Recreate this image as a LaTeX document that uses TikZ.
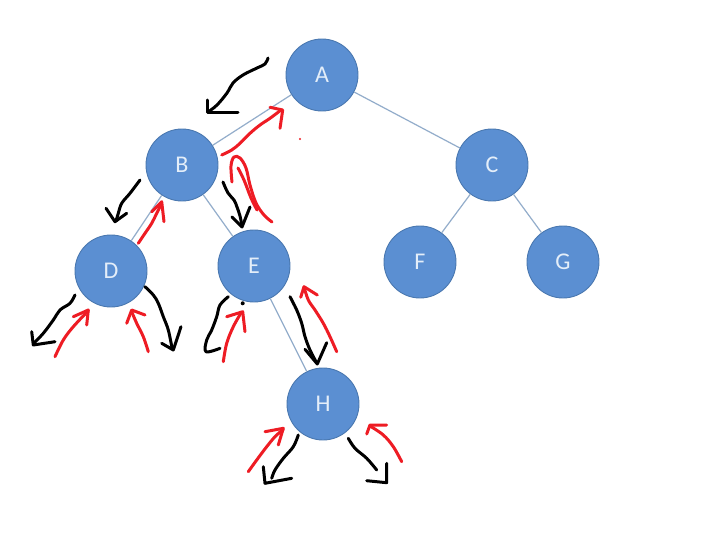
\documentclass[tikz,border=0pt]{standalone}
\usepackage{fontspec}
\setmainfont{Carlito}
\definecolor{nodefill}{HTML}{5B8FD2}
\definecolor{nodeborder}{HTML}{4A78B0}
\definecolor{nodetext}{HTML}{E4EEF9}
\definecolor{edgecol}{HTML}{93ADCB}
\definecolor{penred}{HTML}{EE1C24}
\begin{document}
\begin{tikzpicture}[x=1pt,y=-1pt,
  tn/.style={circle,minimum size=72pt,inner sep=0pt,fill=nodefill,draw=nodeborder,line width=0.9pt,text=nodetext,font=\fontsize{24}{24}\selectfont},
  edge/.style={draw=edgecol,line width=1.2pt},
  blk/.style={draw=black,line width=3pt,line cap=round,line join=round},
  rdp/.style={draw=penred,line width=3pt,line cap=round,line join=round}]
\useasboundingbox (0,0) rectangle (704,543);
\fill[white] (0,0) rectangle (704,543);
% nodes
\node[tn] (A) at (322,75) {A};
\node[tn] (B) at (182,165) {B};
\node[tn] (C) at (492,165) {C};
\node[tn] (D) at (111,271) {D};
\node[tn] (E) at (254,266) {E};
\node[tn] (F) at (420,262) {F};
\node[tn] (G) at (563,262) {G};
\node[tn] (H) at (323,404) {H};
% edges
\draw[edge] (A) -- (B);
\draw[edge] (A) -- (C);
\draw[edge] (B) -- (D);
\draw[edge] (B) -- (E);
\draw[edge] (C) -- (F);
\draw[edge] (C) -- (G);
\draw[edge] (E) -- (H);
% 1 black A->B
\draw[blk] plot[smooth,tension=0.6] coordinates {(268,58) (265,64) (257,68) (243,75) (233,83) (227,93) (217,105) (208,112)};
\draw[blk] (207,100) -- (207,112) -- (238,112);
% 2 red B->A
\draw[rdp] plot[smooth,tension=0.6] coordinates {(221.7,155) (231.7,150) (240,143.3) (250,133.3) (260,125) (270,118.3) (281,110)};
\draw[rdp] (270,107.3) -- (282.7,110) -- (280,128.3);
% 3 red E->B hook
\draw[rdp] plot[smooth,tension=0.6] coordinates {(232,182) (231,166) (234,157) (240,158) (246,168) (250,185) (256,203) (264,215) (272,222)};
\draw[rdp] plot[smooth,tension=0.6] coordinates {(238,168) (244,180) (251,198) (257,210)};
% 4 black B->E
\draw[blk] plot[smooth,tension=0.6] coordinates {(223,182) (228,193) (234,200) (237,207) (240,216) (242,226)};
\draw[blk] (232,217) -- (242,227) -- (250,207);
% 5 black B->D
\draw[blk] plot[smooth,tension=0.6] coordinates {(140,180) (130,193.3) (121.7,203.3) (118.3,213.3) (116,221)};
\draw[blk] (106,208.3) -- (115,221.7) -- (126.7,213.3);
% 6 red D->B
\draw[rdp] plot[smooth,tension=0.6] coordinates {(138.3,243.3) (145,233.3) (151.7,223.3) (156.7,213.3) (161.7,203.3)};
\draw[rdp] (151.7,211.7) -- (161.7,201.7) -- (164,221.7);
% 7 black D left
\draw[blk] plot[smooth,tension=0.6] coordinates {(75,295) (70,303.3) (60,310) (53.3,320) (43.3,333.3) (34,343)};
\draw[blk] (31.7,331.7) -- (33.3,345) -- (55,341.7);
% 8 red D left
\draw[rdp] plot[smooth,tension=0.6] coordinates {(55,356.7) (63.3,340) (73.3,326.7) (88.3,310.7)};
\draw[rdp] (73.3,316.7) -- (88.3,310) -- (86.7,325);
% 9 red D right
\draw[rdp] plot[smooth,tension=0.6] coordinates {(148.3,351.7) (143.3,336.7) (136.7,323.3) (131.7,311.7)};
\draw[rdp] (126.7,323.3) -- (131.7,310) -- (145,315);
% 10 black D right
\draw[blk] plot[smooth,tension=0.6] coordinates {(145,286.7) (153.3,295) (158.3,303.3) (163.3,316.7) (168.3,330) (172,348)};
\draw[blk] (161.7,343.3) -- (173.3,350) -- (181,326.7);
% 11 black E left
\draw[blk] plot[smooth,tension=0.6] coordinates {(228.3,296.7) (220,305) (216.7,316.7) (211.7,330) (206.7,340) (206,351.7) (220,348.3)};
\fill (242.7,303.3) circle (2pt);
% 12 red E left
\draw[rdp] plot[smooth,tension=0.6] coordinates {(223.3,361.7) (226.7,343.3) (233.3,326.7) (241,313)};
\draw[rdp] (226.7,316.7) -- (242.7,311.7) -- (245,331.7);
% 13 black E->H
\draw[blk] plot[smooth,tension=0.6] coordinates {(290,296.7) (296.7,310) (301.7,323.3) (305,336.7) (310,350) (316.5,362.5)};
\draw[blk] (305,349.3) -- (317.3,364) -- (326.7,342.7);
% 14 red H->E
\draw[rdp] plot[smooth,tension=0.6] coordinates {(336.7,351.7) (330,336.7) (323.3,323.3) (315,310) (308.3,300) (304,287)};
\draw[rdp] (300.7,297.3) -- (304,286.7) -- (317.3,295);
% 15 red H left
\draw[rdp] plot[smooth,tension=0.6] coordinates {(248.3,471.7) (256.7,460) (266.7,446.7) (275,436.7) (283.3,429.3)};
\draw[rdp] (265,431.7) -- (283.3,428.3) -- (278.3,445);
% 16 black H left
\draw[blk] plot[smooth,tension=0.6] coordinates {(298.3,435) (293.3,446.7) (283.3,458.3) (275,470) (271.7,478.3)};
\draw[blk] (263.3,466.7) -- (265,483.3) -- (291.7,478.3);
% 17 black H right
\draw[blk] plot[smooth,tension=0.6] coordinates {(348.3,438.3) (355,448.3) (366.7,458.3) (376.7,470)};
\draw[blk] (366.7,480.7) -- (386.7,482.7) -- (386.7,463.3);
% 18 red H right
\draw[rdp] plot[smooth,tension=0.6] coordinates {(401.7,461.7) (393.3,446.7) (383.3,435) (370,426)};
\draw[rdp] (366.7,434) -- (370,425) -- (386.7,425);
% stray red dot
\fill[penred] (300,139) circle (1.2pt);
\end{tikzpicture}
\end{document}
